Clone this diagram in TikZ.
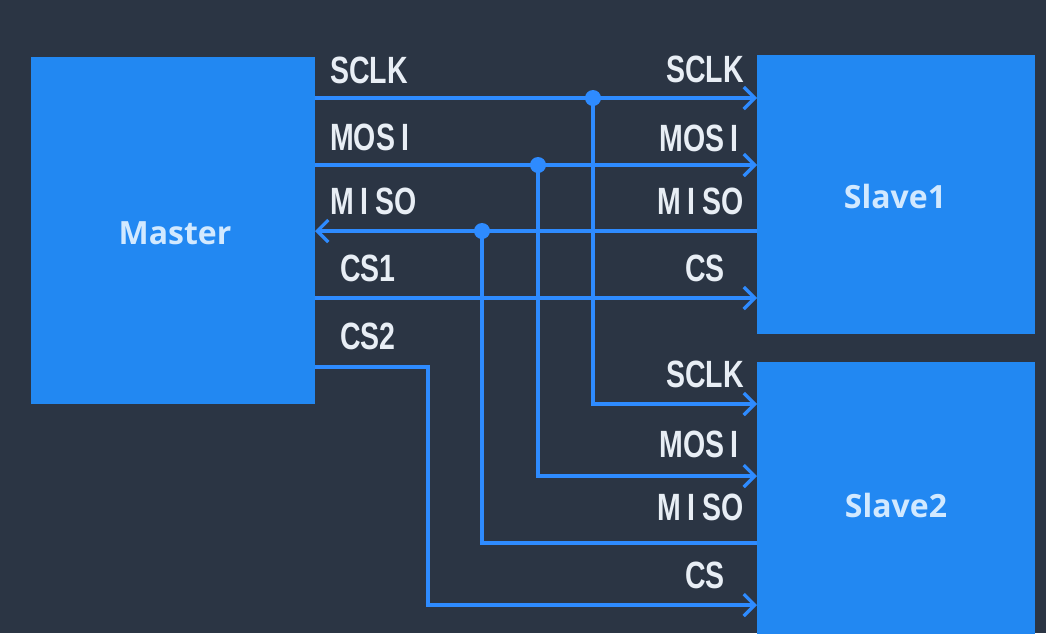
\documentclass[tikz,border=0pt]{standalone}
\usepackage{fontspec}
\setmainfont{Liberation Sans}
\newfontfamily\boxfont{Open Sans}
\usetikzlibrary{arrows.meta}
\definecolor{bg}{HTML}{2B3544}
\definecolor{boxblue}{HTML}{2288F2}
\definecolor{wire}{HTML}{2E8BFF}
\definecolor{lbl}{HTML}{E8EEF5}
\definecolor{boxtxt}{HTML}{D2E9FF}
\newcommand\mysigfont{\bfseries\fontsize{38}{38}\selectfont\spaceskip=9pt plus 0pt minus 0pt\relax}
\begin{document}
\begin{tikzpicture}[x=1pt,y=-1pt,
  box/.style={draw=none, fill=boxblue, inner sep=0pt, outer sep=0pt, anchor=north west},
  wirestyle/.style={draw=wire, line width=3.2pt},
  arr/.style={wirestyle, -{Straight Barb[length=11pt,width=22pt]}},
  sig/.style={font=\mysigfont, text=lbl, xscale=0.75, inner sep=0pt,
              text height=27pt, text depth=0pt},
  boxlbl/.style={font=\boxfont\bfseries\fontsize{32}{32}\selectfont, text=boxtxt, inner sep=0pt,
              text height=23pt, text depth=0pt},
  jdot/.style={circle, fill=wire, minimum size=16pt, inner sep=0pt}
]
\useasboundingbox (0,0) rectangle (1046,633);
\clip (0,0) rectangle (1046,633);
\fill[bg] (0,0) rectangle (1046,633);

% boxes
\node[box, minimum width=284pt, minimum height=347pt] (master) at (31,57) {};
\node[box, minimum width=278pt, minimum height=279pt] (s1) at (757,55) {};
\node[box, minimum width=278pt, minimum height=290pt] (s2) at (757,362) {};
\node[boxlbl] (mlbl) at (175,233) {Master};
\node[boxlbl] (s1lbl) at (895,197) {Slave1};
\node[boxlbl] (s2lbl) at (896,506) {Slave2};

% rows
\coordinate (r1) at (0,98);
\coordinate (r2) at (0,165);
\coordinate (r3) at (0,231);
\coordinate (r4) at (0,298);
\coordinate (r5) at (0,404);
\coordinate (r6) at (0,476);
\coordinate (r7) at (0,543);
\coordinate (r8) at (0,605);
\coordinate (cs2bend) at (428,367);

% junction dots
\node[jdot] (d1) at (593,98) {};
\node[jdot] (d2) at (538,165) {};
\node[jdot] (d3) at (482,231) {};

% wires to slave1
\draw[arr] (master.east |- r1) -- (s1.west |- r1);
\draw[arr] (master.east |- r2) -- (s1.west |- r2);
\draw[arr] (s1.west |- r3) -- (master.east |- r3);
\draw[arr] (master.east |- r4) -- (s1.west |- r4);

% branches to slave2
\draw[arr] (d1.center) |- (s2.west |- r5);
\draw[arr] (d2.center) |- (s2.west |- r6);
\draw[wirestyle] (s2.west |- r7) -| (d3.center);
\draw[arr] (master.east |- cs2bend) -- (cs2bend) |- (s2.west |- r8);

% left labels
\node[sig, anchor=west] (lsclk) at (330,70) {SCLK};
\node[sig, anchor=west] (lmosi) at (330,137) {MOS I};
\node[sig, anchor=west] (lmiso) at (330,201) {M I SO};
\node[sig, anchor=west] (lcs1) at (340,268) {CS1};
\node[sig, anchor=west] (lcs2) at (340,336) {CS2};

% slave1 labels
\node[sig, anchor=east] (asclk) at (744,69) {SCLK};
\node[sig, anchor=east] (amosi) at (739,138) {MOS I};
\node[sig, anchor=east] (amiso) at (744,201) {M I SO};
\node[sig, anchor=east] (acs) at (725,268) {CS};

% slave2 labels
\node[sig, anchor=east] (bsclk) at (744,374) {SCLK};
\node[sig, anchor=east] (bmosi) at (739,444) {MOS I};
\node[sig, anchor=east] (bmiso) at (744,507) {M I SO};
\node[sig, anchor=east] (bcs) at (725,575) {CS};
\end{tikzpicture}
\end{document}
